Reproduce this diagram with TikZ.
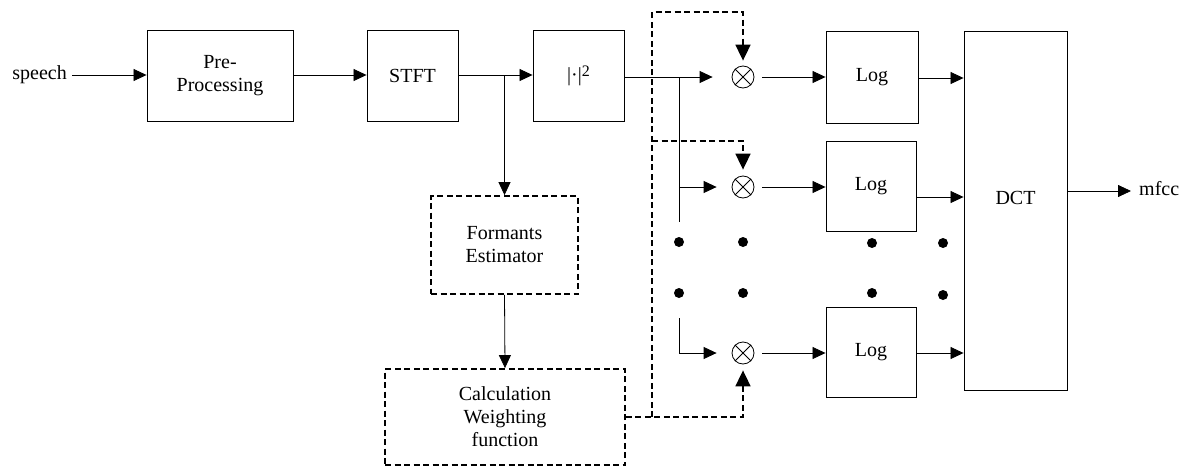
\documentclass[tikz,border=0pt]{standalone}
\usepackage{fontspec}
\setmainfont{Liberation Serif}
\usetikzlibrary{arrows.meta,calc}
\begin{document}
\begin{tikzpicture}[x=1pt,y=-1pt,
  font=\fontsize{20}{23}\selectfont,
  blk/.style={draw, line width=0.9pt, inner sep=0pt, align=center},
  dblk/.style={draw, line width=1.8pt, dash pattern=on 6pt off 3.5pt, align=center, inner sep=0pt},
  sig/.style={line width=0.8pt, -{Triangle[length=13pt,width=12pt]}},
  plain/.style={line width=0.8pt},
  wsig/.style={line width=1.8pt, dash pattern=on 6pt off 3.5pt, -{Triangle[length=16pt,width=15pt]}},
  mult/.style={circle, draw, line width=0.8pt, minimum size=22pt, inner sep=0pt},
  dot/.style={circle, fill, minimum size=10pt, inner sep=0pt},
]
\useasboundingbox (0,0) rectangle (1187,466);

% main chain
\node[anchor=east, inner sep=0pt] (speech) at (67,75) {speech};
\node[blk, minimum width=146pt, minimum height=91pt] (pre) at (220,75.5) {Pre-\\Processing};
\node[blk, minimum width=91pt, minimum height=91pt] (stft) at (412.5,75.5) {STFT};
\node[blk, minimum width=91pt, minimum height=91pt] (sq) at (578.5,76) {|·|\raisebox{5pt}{\fontsize{16}{16}\selectfont 2}};
\node[dblk, minimum width=147pt, minimum height=98pt] (form) at (504.5,245) {Formants\\Estimator};
\node[dblk, minimum width=240pt, minimum height=96pt] (calc) at (505,417) {Calculation\\Weighting\\function};

% multipliers
\node[mult] (c1) at (743,77) {};
\node[mult] (c2) at (743,187) {};
\node[mult] (c3) at (743,353) {};
\foreach \c in {c1,c2,c3}{
  \draw[plain] (\c.north east) -- (\c.south west) (\c.north west) -- (\c.south east);
}

% log boxes and DCT
\node[blk, minimum width=92pt, minimum height=92pt] (log1) at (872,77) {Log};
\node[blk, minimum width=90pt, minimum height=90pt] (log2) at (871,186) {Log};
\node[blk, minimum width=90pt, minimum height=90pt] (log3) at (871,352) {Log};
\node[blk, minimum width=103pt, minimum height=359pt] (dct) at (1015.5,210.5) {};
\node[inner sep=0pt] (dcttxt) at (1015.5,198) {DCT};
\node[anchor=west, inner sep=0pt] (mfcc) at (1139,189) {mfcc};

% dots
\foreach \x/\y in {679/242,743/242,679/293,743/293,872/243,943/243,872/293,943/295}{
  \node[dot] at (\x,\y) {};
}

% connectors
\coordinate (sp0) at (72,75);
\draw[sig] (sp0) -- (pre.west |- sp0);
\draw[sig] (pre.east |- sp0) -- (stft.west |- sp0);
\draw[sig] (stft.east |- sp0) -- (sq.west |- sp0);
\draw[sig, shorten >=19pt] (sq.east |- c1) -- (c1.west);

\coordinate (brtop) at (679,77);
\coordinate (brbot) at (679,222);
\coordinate (br3) at (679,318);
\draw[plain] (brtop) -- (brbot);
\draw[sig, shorten >=15pt] (brtop |- c2) -- (c2.west);
\draw[sig, shorten >=15pt] (br3) |- (c3.west);

\draw[sig, shorten <=8pt] (c1.east) -- (log1.west |- c1);
\draw[sig, shorten <=8pt] (c2.east) -- (log2.west |- c2);
\draw[sig, shorten <=8pt] (c3.east) -- (log3.west |- c3);

\coordinate (l1o) at (918,78);
\coordinate (l2o) at (916,197);
\coordinate (l3o) at (916,353);
\draw[sig] (l1o) -- (dct.west |- l1o);
\draw[sig] (l2o) -- (dct.west |- l2o);
\draw[sig] (l3o) -- (dct.west |- l3o);

\coordinate (dout) at (1067,191);
\draw[sig, shorten >=8pt] (dout) -- (mfcc.west |- dout);

\draw[sig] (form.north |- sp0) -- (form.north);
\draw[sig] (form.south) -- (calc.north);

% weighting (dashed)
\coordinate (dtop) at (652,12);
\coordinate (dmid) at (652,141);
\coordinate (dbot) at (652,417);
\draw[wsig, shorten >=6pt] (calc.east) -| (c3.south);
\draw[wsig, shorten >=5pt] (dbot) -- (dtop) -| (c1.north);
\draw[wsig, shorten >=6pt] (dmid) -| (c2.north);
\end{tikzpicture}
\end{document}
